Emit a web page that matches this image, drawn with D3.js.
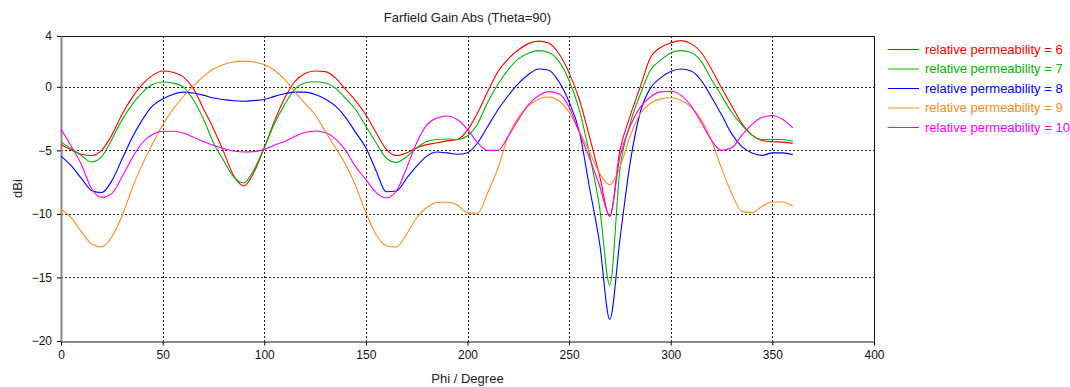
<!DOCTYPE html>
<html>
<head>
<meta charset="utf-8">
<script src="https://cdn.jsdelivr.net/npm/d3@7"></script>
<style>
  body { margin: 0; background: #fff; }
  text { font-family: "Liberation Sans", Arial, sans-serif; }
</style>
</head>
<body>
<div id="chart"></div>
<script>
// phi sample points (degrees)
const phi = d3.range(0, 361, 5);

const gain6 = [-4.53, -4.95, -5.3, -5.4, -5.0, -3.8, -2.17, -0.85, 0.2, 0.9,
  1.25, 1.15, 0.8, -0.1, -1.7, -3.3, -5.1, -7.0, -7.8, -6.7,
  -4.8, -2.7, -0.9, 0.4, 1.05, 1.25, 1.2, 0.7, -0.2, -1.1,
  -2.2, -3.6, -4.9, -5.4, -5.2, -4.8, -4.55, -4.4, -4.25, -4.14,
  -3.4, -2.04, -0.35, 1.2, 2.2, 2.9, 3.4, 3.6, 3.45, 2.6,
  1.1, -1.0, -3.9, -7.0, -10.2, -5.0, -2.3, 0.0, 2.3, 3.1,
  3.46, 3.64, 3.4, 2.7, 1.4, -0.1, -1.5, -2.9, -3.8, -4.22,
  -4.32, -4.35, -4.45];

const gain7 = [-4.35, -4.85, -5.4, -5.92, -5.5, -4.14, -2.6, -1.4, -0.45, 0.18,
  0.38, 0.3, 0.0, -1.0, -2.5, -4.4, -5.8, -7.1, -7.55, -6.5,
  -4.8, -2.9, -1.4, -0.2, 0.3, 0.4, 0.3, -0.1, -0.9, -1.8,
  -3.1, -4.4, -5.6, -5.95, -5.5, -4.8, -4.3, -4.15, -4.1, -4.14,
  -3.85, -2.9, -1.2, 0.2, 1.35, 2.2, 2.65, 2.85, 2.7, 2.0,
  0.5, -1.8, -5.3, -9.5, -15.6, -6.5, -2.9, -0.6, 1.3, 2.1,
  2.67, 2.85, 2.7, 2.0, 0.6, -0.7, -2.0, -3.0, -3.8, -4.14,
  -4.14, -4.14, -4.27];

const gain8 = [-5.45, -6.2, -7.2, -8.15, -8.32, -7.4, -5.7, -4.0, -2.6, -1.5,
  -0.95, -0.6, -0.42, -0.48, -0.65, -0.88, -1.0, -1.1, -1.13, -1.08,
  -0.99, -0.75, -0.55, -0.42, -0.42, -0.6, -0.95, -1.5, -2.4, -3.6,
  -4.8, -6.6, -8.25, -8.2, -7.2, -6.23, -5.45, -5.13, -5.2, -5.31,
  -5.18, -4.4, -3.1, -1.8, -0.7, 0.25, 0.97, 1.4, 1.3, 0.4,
  -1.2, -3.5, -7.9, -12.3, -18.3, -12.0, -6.0, -2.0, -0.1, 0.7,
  1.2, 1.4, 1.25, 0.5, -0.8, -2.2, -3.7, -4.7, -5.2, -5.39,
  -5.2, -5.2, -5.34];

const gain9 = [-9.63, -10.3, -11.4, -12.35, -12.6, -11.8, -10.16, -8.0, -6.1, -4.5,
  -3.0, -1.8, -0.8, 0.05, 0.8, 1.4, 1.75, 1.95, 2.02, 1.95,
  1.75, 1.3, 0.6, -0.4, -1.3, -2.2, -3.5, -4.8, -6.1, -7.8,
  -9.9, -11.6, -12.5, -12.6, -11.6, -10.3, -9.5, -9.1, -9.06, -9.3,
  -9.9, -9.95, -8.3, -6.4, -3.9, -2.4, -1.5, -0.98, -0.8, -1.1,
  -2.0, -3.5, -5.1, -6.8, -7.7, -6.3, -3.9, -2.1, -1.3, -0.95,
  -0.86, -1.05, -1.6, -2.6, -4.2, -6.4, -8.4, -9.8, -9.9, -9.4,
  -9.06, -9.06, -9.37];

const gain10 = [-3.35, -4.65, -6.1, -8.0, -8.7, -8.4, -7.1, -5.6, -4.4, -3.75,
  -3.5, -3.5, -3.62, -3.95, -4.3, -4.6, -4.85, -5.05, -5.13, -5.1,
  -4.92, -4.6, -4.3, -3.9, -3.6, -3.48, -3.6, -4.1, -5.0, -6.3,
  -7.3, -8.3, -8.75, -8.2, -6.4, -4.4, -3.0, -2.45, -2.3, -2.57,
  -3.35, -4.4, -5.0, -5.0, -3.9, -2.6, -1.4, -0.7, -0.38, -0.55,
  -1.6, -3.6, -5.6, -7.8, -10.15, -5.5, -3.1, -1.6, -0.8, -0.4,
  -0.35, -0.65, -1.5, -2.8, -4.2, -5.0, -4.8, -3.8, -2.95, -2.4,
  -2.25, -2.55, -3.22];

const seriesNames = ['relative permeability = 6', 'relative permeability = 7',
  'relative permeability = 8', 'relative permeability = 9', 'relative permeability = 10'];
const seriesValues = [gain6, gain7, gain8, gain9, gain10];
const seriesColors = ['#ff0000', '#00b400', '#0000ff', '#ff8c1a', '#ff00ff'];

const xTicks = [0, 50, 100, 150, 200, 250, 300, 350, 400];
const yTicks = [4, 0, -5, -10, -15, -20];

const width = 1070;
const height = 387;
const margin = { top: 36, right: 196, bottom: 46, left: 61 };
const plotW = width - margin.left - margin.right;
const plotH = height - margin.top - margin.bottom;

const svg = d3.select('#chart')
  .append('svg')
  .attr('width', width)
  .attr('height', height);

const xScale = d3.scaleLinear().domain([0, 400]).range([margin.left, margin.left + plotW]);
const yScale = d3.scaleLinear().domain([-20, 4]).range([margin.top + plotH, margin.top]);

// grid lines
svg.append('g')
  .selectAll('line')
  .data(xTicks.filter(d => d > 0 && d < 400))
  .enter()
  .append('line')
  .attr('x1', d => Math.round(xScale(d)) + 0.5)
  .attr('x2', d => Math.round(xScale(d)) + 0.5)
  .attr('y1', margin.top)
  .attr('y2', margin.top + plotH)
  .attr('stroke', '#222')
  .attr('stroke-dasharray', '2,2');

svg.append('g')
  .selectAll('line')
  .data(yTicks.filter(d => d > -20 && d < 4))
  .enter()
  .append('line')
  .attr('x1', margin.left)
  .attr('x2', margin.left + plotW)
  .attr('y1', d => Math.round(yScale(d)) + 0.5)
  .attr('y2', d => Math.round(yScale(d)) + 0.5)
  .attr('stroke', '#222')
  .attr('stroke-dasharray', '2,2');

// frame (top and right)
svg.append('path')
  .attr('d', `M${margin.left},${margin.top + 0.5}H${margin.left + plotW + 0.5}V${margin.top + plotH}`)
  .attr('fill', 'none')
  .attr('stroke', '#111');

// axes
const xAxis = svg.append('g')
  .attr('transform', `translate(0, ${margin.top + plotH + 0.5})`)
  .call(d3.axisBottom(xScale).tickValues(xTicks).tickSize(4).tickSizeOuter(0).tickPadding(5));
xAxis.select('.domain').attr('stroke', '#111');
xAxis.selectAll('text').attr('font-size', 12).attr('fill', '#111')
  .style('font-family', '"Liberation Sans", Arial, sans-serif');

const yAxis = svg.append('g')
  .attr('transform', `translate(${margin.left}, 0)`)
  .call(d3.axisLeft(yScale).tickValues(yTicks).tickSize(4).tickSizeOuter(0).tickPadding(5));
yAxis.select('.domain').attr('stroke', '#888').attr('stroke-width', 2);
yAxis.selectAll('text').attr('font-size', 12).attr('fill', '#111')
  .style('font-family', '"Liberation Sans", Arial, sans-serif');

// lines
const lineFunc = d3.line()
  .x((d, i) => xScale(phi[i]))
  .y(d => yScale(d))
  .curve(d3.curveMonotoneX);

seriesValues.forEach((vals, i) => {
  svg.append('path')
    .attr('d', lineFunc(vals))
    .attr('fill', 'none')
    .attr('stroke', seriesColors[i])
    .attr('stroke-width', 1.1);
});

// title
svg.append('text')
  .attr('x', margin.left + plotW / 2)
  .attr('y', 22)
  .attr('text-anchor', 'middle')
  .attr('font-size', 13)
  .attr('fill', '#222')
  .text('Farfield Gain Abs (Theta=90)');

// axis titles
svg.append('text')
  .attr('x', margin.left + plotW / 2)
  .attr('y', 383)
  .attr('text-anchor', 'middle')
  .attr('font-size', 13)
  .attr('fill', '#222')
  .text('Phi / Degree');

svg.append('text')
  .attr('transform', `translate(22, ${margin.top + plotH / 2}) rotate(-90)`)
  .attr('text-anchor', 'middle')
  .attr('font-size', 13)
  .attr('fill', '#222')
  .text('dBi');

// legend
const legend = svg.append('g').attr('transform', 'translate(888, 49)');
seriesNames.forEach((name, i) => {
  const row = legend.append('g').attr('transform', `translate(0, ${i * 19.5})`);
  row.append('line')
    .attr('x1', 0).attr('x2', 31)
    .attr('y1', 0.5).attr('y2', 0.5)
    .attr('stroke', seriesColors[i]);
  row.append('text')
    .attr('x', 37)
    .attr('y', 0)
    .attr('dy', '0.35em')
    .attr('font-size', 13)
    .attr('fill', seriesColors[i])
    .text(name);
});
</script>
</body>
</html>
